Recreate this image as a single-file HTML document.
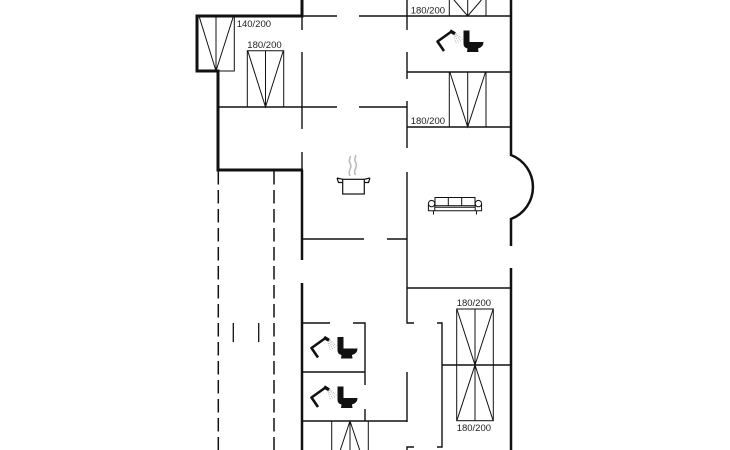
<!DOCTYPE html>
<html><head><meta charset="utf-8"><style>
html,body{margin:0;padding:0;background:#fff;}
svg{display:block;}
text{font-family:"Liberation Sans",Arial,sans-serif;font-size:9.5px;fill:#222;}
</style></head><body>
<svg width="730" height="450" viewBox="0 0 730 450" xmlns="http://www.w3.org/2000/svg">
<rect width="730" height="450" fill="#fff"/>
<g fill="none" stroke="#111" stroke-linecap="butt">
  <!-- thick walls -->
  <g stroke-width="3">
    <path d="M197 16 H303.5"/>
    <path d="M302 0 V16"/>
    <path d="M197 14.5 V71 H218 V170 H303"/>
  </g>
  <g stroke-width="2.5">
    <path d="M302 170 V260"/>
    <path d="M302 283 V450"/>
    <path d="M511 0 V155 A34.3 34.3 0 0 1 511 219 V246"/>
    <path d="M511 268 V450"/>
  </g>
  <!-- thin walls -->
  <g stroke-width="1.4">
    <path d="M302 16 H337 M359 16 H511"/>
    <path d="M302 16 V30 M302 52 V129 M302 152 V170"/>
    <path d="M218 107 H337 M359 107 H407"/>
    <path d="M407 0 V30 M407 52 V79 M407 101 V148 M407 172 V323 H414 M407 372 V422 M407 450 V447 H414"/>
    <path d="M407 72 H511 M407 127 H511"/>
    <path d="M302 239 H364 M387 239 H407"/>
    <path d="M407 288 H511"/>
    <path d="M437 323 H442 V447 H437 M442 365 H511"/>
    <path d="M302 323 H330 M353 323 H365 V385 M365 409 V421"/>
    <path d="M302 372 H365 M302 421 H407"/>
  </g>
  <!-- dashed -->
  <g stroke-width="1.5" stroke-dasharray="13.5 5.5">
    <path d="M218.3 171 V450"/>
    <path d="M274 171 V450"/>
  </g>
  <path d="M233.3 323 V342 M258.7 323 V342" stroke-width="1.3"/>
  <!-- beds -->
  <g stroke-width="1">
    <path d="M198.5 16 H234.3 V71 H218 M216 16 V71 M199 16 L216 71 L233.5 16"/>
    <path d="M247.3 107 V50.7 H283.7 V107 M265.5 50.7 V107 M247.8 51 L265.5 107 L283.2 51"/>
    <path d="M449.3 0 V16 M486 0 V16 M467.7 0 V16 M454 0 L467.7 16 L481.4 0"/>
    <path d="M449.3 72 V127 M486 72 V127 M467.7 72 V127 M449.8 72 L467.7 127 L485.5 72"/>
    <rect x="456.7" y="309" width="36.6" height="111.7"/>
    <path d="M475 309 V420.7 M456.7 365 H493.3 M457 309.5 L475 365 L493 309.5 M457 420.2 L475 365 L493 420.2"/>
    <path d="M331.7 421 V450 M368.3 421 V450 M350 421 V450 M350 421 L340.3 450 M350 421 L359.7 450"/>
  </g>
  <!-- pot -->
  <g stroke-width="1.2">
    <path d="M350 176 C347 171 353 168 350 163 C348 160 351 158 350 156" stroke="#bbb" stroke-width="1.6"/>
    <path d="M355.5 175 C352.5 170 358.5 167 355.5 162 C353.5 159 356.5 157 355.5 155" stroke="#bbb" stroke-width="1.6"/>
    <rect x="342.7" y="179.3" width="21.6" height="14.7"/>
    <path d="M337 178 L342.7 179.3 M337 178 L338.5 182.5 H342.7 M370 178 L364.3 179.3 M370 178 L368.5 182.5 H364.3"/>
  </g>
  <!-- sofa -->
  <g stroke-width="1">
    <rect x="435" y="197.5" width="40" height="8.2"/>
    <path d="M448.3 197.5 V205.7 M461.7 197.5 V205.7"/>
    <circle cx="431.6" cy="203.6" r="3.2"/>
    <circle cx="478.4" cy="203.6" r="3.2"/>
    <path d="M428.4 203.6 V210.7 H481.6 V203.6 M434.8 207.3 H475.2 M434.8 203.6 V210.7 M475.2 203.6 V210.7 M433.5 210.7 V214.5 M476.5 210.7 V214.5"/>
  </g>
</g>
<!-- shower + wc icons -->
<g transform="translate(436,30)">
  <path d="M15.5 1.5 L1.5 11.5 L8 21" fill="none" stroke="#111" stroke-width="2.6" stroke-linejoin="round"/>
  <path d="M14 0.8 L19 3.8" stroke="#111" stroke-width="3.4"/>
  <path d="M17.5 4.5 L20.5 14 M18.5 4.5 L23 13 M19.5 4 L25 11.5 M20 3.5 L26.5 9.5" stroke="#aaa" stroke-width="0.8" stroke-dasharray="1 1"/>
  <path d="M27.5 0.5 H33.5 V12 H47.5 Q47.5 17 42 18.5 L42.5 22 H31 L31.5 18.5 Q27.5 17.5 27.5 14 Z" fill="#111"/>
</g>
<g transform="translate(310,336.5)">
  <path d="M15.5 1.5 L1.5 11.5 L8 21" fill="none" stroke="#111" stroke-width="2.6" stroke-linejoin="round"/>
  <path d="M14 0.8 L19 3.8" stroke="#111" stroke-width="3.4"/>
  <path d="M17.5 4.5 L20.5 14 M18.5 4.5 L23 13 M19.5 4 L25 11.5 M20 3.5 L26.5 9.5" stroke="#aaa" stroke-width="0.8" stroke-dasharray="1 1"/>
  <path d="M27.5 0.5 H33.5 V12 H47.5 Q47.5 17 42 18.5 L42.5 22 H31 L31.5 18.5 Q27.5 17.5 27.5 14 Z" fill="#111"/>
</g>
<g transform="translate(310,386)">
  <path d="M15.5 1.5 L1.5 11.5 L8 21" fill="none" stroke="#111" stroke-width="2.6" stroke-linejoin="round"/>
  <path d="M14 0.8 L19 3.8" stroke="#111" stroke-width="3.4"/>
  <path d="M17.5 4.5 L20.5 14 M18.5 4.5 L23 13 M19.5 4 L25 11.5 M20 3.5 L26.5 9.5" stroke="#aaa" stroke-width="0.8" stroke-dasharray="1 1"/>
  <path d="M27.5 0.5 H33.5 V12 H47.5 Q47.5 17 42 18.5 L42.5 22 H31 L31.5 18.5 Q27.5 17.5 27.5 14 Z" fill="#111"/>
</g>
<!-- labels -->
<text x="236.7" y="27">140/200</text>
<text x="247.3" y="48">180/200</text>
<text x="410.7" y="13.3">180/200</text>
<text x="410.7" y="124">180/200</text>
<text x="456.7" y="306">180/200</text>
<text x="456.7" y="431">180/200</text>
</svg>
</body></html>
